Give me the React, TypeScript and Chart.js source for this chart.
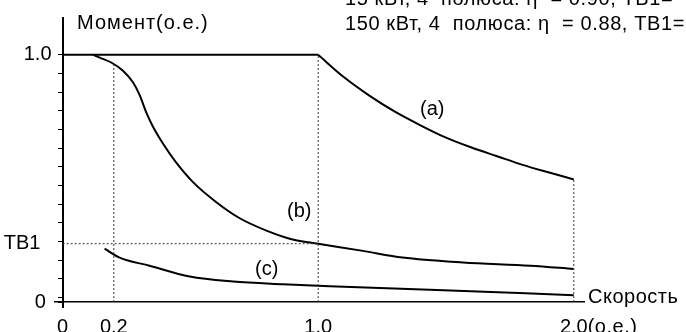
import React, { useEffect, useRef } from "react";
import { Chart, registerables } from "chart.js";

Chart.register(...registerables);

// ---- data ----
const TB1 = 0.236;

const curveA_x = [0, 1.0, 1.1, 1.2, 1.3, 1.4, 1.5, 1.6, 1.7, 1.8, 1.9, 2.0];
const curveA_y = [1.0, 1.0, 0.91, 0.835, 0.77, 0.715, 0.665, 0.625, 0.59, 0.555, 0.525, 0.496];

const curveB_x = [0.12, 0.145, 0.19, 0.236, 0.275, 0.3, 0.33, 0.353, 0.393, 0.44, 0.51, 0.6, 0.693, 0.8, 0.9, 1.0, 1.175, 1.33, 1.567, 1.83, 2.0];
const curveB_y = [1.0, 0.989, 0.969, 0.936, 0.889, 0.84, 0.76, 0.71, 0.64, 0.57, 0.485, 0.405, 0.339, 0.288, 0.253, 0.236, 0.207, 0.18, 0.16, 0.147, 0.134];

const curveC_x = [0.164, 0.223, 0.34, 0.497, 0.667, 0.862, 1.045, 1.436, 2.0];
const curveC_y = [0.216, 0.18, 0.147, 0.103, 0.083, 0.072, 0.064, 0.05, 0.028];

const guide02_x = [0.2, 0.2];
const guide02_y = [0, 0.965];
const guide10_x = [1.0, 1.0];
const guide10_y = [0, 1.0];
const guide20_x = [2.0, 2.0];
const guide20_y = [0, 0.496];
const guideTB_x = [0, 1.0];
const guideTB_y = [TB1, TB1];

const xTickValues = [0, 0.2, 1.0, 2.0];
const xTickLabels = ["0", "0.2", "1.0", "2.0"];
const yMinorTicks = [0.925, 0.8495, 0.774, 0.698, 0.623, 0.547, 0.472, 0.396, 0.321, 0.245, 0.17, 0.094, 0.019];
const yMajorValues = [0, TB1, 1.0];
const yMajorLabels = ["0   ", "ТВ1    ", "1.0  "];

const curveLabels = ["(a)", "(b)", "(c)"];
const headerLines = ["15 кВт, 4  полюса: η  = 0.90, ТВ1=", "150 кВт, 4  полюса: η  = 0.88, ТВ1="];
const yTitle = "Момент(о.е.)";
const xTitle = "Скорость";
const xUnit = "(о.е.)";

const FONT_FAMILY = '"Liberation Sans", Arial, sans-serif';

const pts = (xs: number[], ys: number[]) => xs.map((x, i) => ({ x, y: ys[i] }));

const textPlugin = {
  id: "texts",
  afterDraw(chart: any) {
    const ctx = chart.ctx;
    const xs = chart.scales.x;
    ctx.save();
    ctx.fillStyle = "#000";
    ctx.font = `20px ${FONT_FAMILY}`;
    ctx.textAlign = "left";
    ctx.textBaseline = "alphabetic";
    ctx.letterSpacing = "1px";
    ctx.fillText(yTitle, 77, 29);
    ctx.letterSpacing = "0.5px";
    ctx.fillText(xTitle, 588, 303);
    ctx.letterSpacing = "0.6px";
    ctx.fillText(headerLines[0], 345, 5);
    ctx.fillText(headerLines[1], 345, 29.5);
    ctx.letterSpacing = "0px";
    ctx.fillText(curveLabels[0], 420, 115);
    ctx.fillText(curveLabels[1], 287, 216.5);
    ctx.fillText(curveLabels[2], 255, 275);
    const w2 = ctx.measureText("2.0").width;
    ctx.letterSpacing = "0.5px";
    ctx.fillText(xUnit, xs.getPixelForValue(2.0) + w2 / 2, 333);
    ctx.restore();
  },
};

export default function App() {
  const ref = useRef<HTMLCanvasElement>(null);
  useEffect(() => {
    if (!ref.current) return;
    const solid = { borderColor: "#000", borderWidth: 2, pointRadius: 0, fill: false, cubicInterpolationMode: "monotone" as const };
    const dotted = { borderColor: "#333", borderWidth: 1, borderDash: [2, 2], pointRadius: 0, fill: false, tension: 0 };
    const chart = new Chart(ref.current, {
      type: "line",
      data: {
        datasets: [
          { ...dotted, data: pts(guide02_x, guide02_y) },
          { ...dotted, data: pts(guide10_x, guide10_y) },
          { ...dotted, data: pts(guide20_x, guide20_y) },
          { ...dotted, data: pts(guideTB_x, guideTB_y) },
          { ...solid, data: pts(curveA_x.slice(0, 2), curveA_y.slice(0, 2)) },
          { ...solid, data: pts(curveA_x.slice(1), curveA_y.slice(1)) },
          { ...solid, data: pts(curveB_x, curveB_y) },
          { ...solid, data: pts(curveC_x, curveC_y) },
        ] as any,
      },
      options: {
        animation: false,
        responsive: false,
        devicePixelRatio: 1,
        layout: { padding: { left: 55, right: 102, top: 13, bottom: 25 } },
        plugins: { legend: { display: false }, tooltip: { enabled: false } },
        scales: {
          x: {
            type: "linear",
            position: { y: 0 } as any,
            min: -0.03,
            max: 2.04,
            afterBuildTicks: (s: any) => {
              s.ticks = xTickValues.map((v) => ({ value: v }));
            },
            ticks: {
              autoSkip: false,
              maxRotation: 0,
              color: "#000",
              font: { family: FONT_FAMILY, size: 20 },
              padding: 13,
              callback: (v: any) => {
                const i = xTickValues.findIndex((t) => Math.abs(t - v) < 1e-6);
                return i >= 0 ? xTickLabels[i] : "";
              },
            },
            grid: { display: false, drawTicks: false },
            border: { display: true, color: "#000", width: 1.5 },
          },
          y: {
            type: "linear",
            position: { x: 0 } as any,
            min: -0.02,
            max: 1.149,
            afterBuildTicks: (s: any) => {
              s.ticks = [...yMinorTicks, ...yMajorValues].sort((a, b) => a - b).map((v) => ({ value: v }));
            },
            ticks: {
              autoSkip: false,
              color: "#000",
              font: { family: FONT_FAMILY, size: 20 },
              padding: 6,
              callback: (v: any) => {
                const i = yMajorValues.findIndex((t) => Math.abs(t - v) < 1e-6);
                return i >= 0 ? yMajorLabels[i] : "";
              },
            },
            grid: {
              display: true,
              drawOnChartArea: false,
              drawTicks: true,
              tickLength: 4,
              tickWidth: 1,
              tickColor: (c: any) => (c.tick && Math.abs(c.tick.value - TB1) < 1e-6 ? "rgba(0,0,0,0)" : "#000"),
            },
            border: { display: true, color: "#000", width: 2 },
          },
        },
      },
      plugins: [textPlugin],
    });
    return () => chart.destroy();
  }, []);
  return (
    <div style={{ position: "absolute", left: 0, top: 0, width: 686, height: 332, background: "#fff" }}>
      <canvas ref={ref} width={686} height={332} style={{ width: 686, height: 332, display: "block" }} />
    </div>
  );
}
